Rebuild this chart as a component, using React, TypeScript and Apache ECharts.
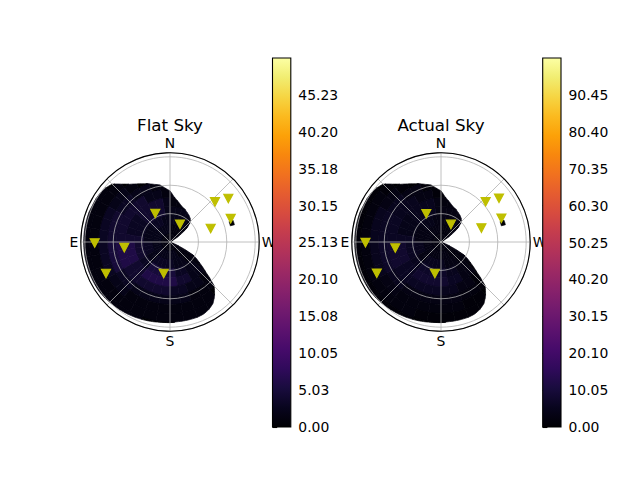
import React, { useEffect, useRef } from "react";
import * as echarts from "echarts";

const FONT = "DejaVu Sans";
const ZENITH_MAX = 1.5708;
const RING_STEP = 0.15708;
const BIN_DEG = 10;
const BOUNDARY_STEP_DEG = 5;

const compassAngles = [0, 90, 180, 270];
const compassLabels = ["N", "E", "S", "W"];

// outer edge of the sky map (zenith, rad) every 5 deg of azimuth, starting at N, going through E
const boundaryRadius = [
  0.9, 0.95, 1.02, 1.05, 1.09, 1.13, 1.18, 1.24, 1.33, 1.44,
  1.48, 1.5, 1.51, 1.51, 1.52, 1.52, 1.52, 1.52, 1.52, 1.52,
  1.52, 1.52, 1.52, 1.52, 1.52, 1.52, 1.51, 1.5, 1.49, 1.48,
  1.47, 1.46, 1.45, 1.44, 1.43, 1.42, 1.42, 1.41, 1.41, 1.41,
  1.41, 1.4, 1.37, 1.32, 1.22, 1.1, 0.82, 0.63, 0.49, 0.18,
  0, 0, 0, 0, 0, 0, 0, 0, 0, 0,
  0.05, 0.21, 0.4, 0.51, 0.55, 0.58, 0.6, 0.63, 0.65, 0.69,
  0.74, 0.8,
];

// heat values: one string per zenith ring, one digit per 10 deg azimuth bin
const flatGrid = [
  "111111111111111111111111100000111111",
  "222222222222222222222111100000111111",
  "223332222333223333322211100000112222",
  "244443334444335555533221100000112222",
  "244443334666446666644221100000111111",
  "122444444666444444332211100000000001",
  "112233444555332222221110000000000000",
  "000122333333221111111100000000000000",
  "000011111111111111111100000000000000",
  "000001111111111100000000000000000000",
];

const actualGrid = [
  "222222222222222222222222200000222222",
  "333333333333333333333222200000222222",
  "334443333555335555533322200000223333",
  "355554446666557777755332200000223333",
  "355554446888668888866331100000222222",
  "133555666888666666553311100000000001",
  "113355666777553333332210000000000000",
  "000133555555332222221100000000000000",
  "000012222222222211111100000000000000",
  "000001111111111100000000000000000000",
];

// small detached patch: [azimuth0, azimuth1, zenith0, zenith1, value]
const islands = [[285, 289, 1.1, 1.17, 0]];

// stars: [zenith (rad), azimuth (deg)]
const flatStars = [
  [1.326, 90.8],
  [0.811, 97.1],
  [1.256, 116.2],
  [0.565, 27.3],
  [0.359, 330.7],
  [0.566, 168.7],
  [1.061, 311.7],
  [1.281, 306.7],
  [1.145, 291.0],
  [0.755, 288.4],
];
const actualStars = [
  [1.33, 90.5],
  [0.812, 97.5],
  [1.258, 116.0],
  [0.56, 27.5],
  [0.355, 330.5],
  [0.565, 169.0],
  [1.058, 312.0],
  [1.279, 307.0],
  [1.143, 291.5],
  [0.752, 289.0],
];

const flatMax = 50.25;
const actualMax = 100.5;
const flatTickLabels = ["0.00", "5.03", "10.05", "15.08", "20.10", "25.13", "30.15", "35.18", "40.20", "45.23"];
const actualTickLabels = ["0.00", "10.05", "20.10", "30.15", "40.20", "50.25", "60.30", "70.35", "80.40", "90.45"];

const inferno = [
  "#000004", "#08051E", "#190C3E", "#300A5B", "#460B6A", "#5C126E", "#711A6E",
  "#87216B", "#9C2964", "#B1325A", "#C43C4E", "#D74B3F", "#E55C30", "#F1711F",
  "#F8870E", "#FCA108", "#FBBA1F", "#F6D543", "#F1ED71", "#FCFFA4",
];

function boundaryAt(t: number): number {
  const n = boundaryRadius.length;
  const idx = (((t % 360) + 360) % 360) / BOUNDARY_STEP_DEG;
  const i0 = Math.floor(idx) % n;
  const i1 = (i0 + 1) % n;
  const f = idx - Math.floor(idx);
  return boundaryRadius[i0] * (1 - f) + boundaryRadius[i1] * f;
}

function buildCells(grid: string[]) {
  const out: number[][] = [];
  grid.forEach((row, j) => {
    for (let i = 0; i < row.length; i++) {
      out.push([j * RING_STEP, Math.min((j + 1) * RING_STEP, ZENITH_MAX), i * BIN_DEG, (i + 1) * BIN_DEG, Number(row[i]), 1]);
    }
  });
  islands.forEach(([t0, t1, r0, r1, v]) => out.push([r0, r1, t0, t1, v, 0]));
  return out;
}

const SEAM_R = 0.004;
const EPS = 1e-6;

const renderHeat = (params: any, api: any) => {
  const r0 = api.value(0);
  const r1 = api.value(1);
  const t0 = api.value(2);
  const t1 = api.value(3);
  const clip = api.value(5);
  const N = 8;
  const ts: number[] = [];
  const bs: number[] = [];
  for (let k = 0; k <= N; k++) {
    const t = t0 + ((t1 - t0) * k) / N;
    ts.push(t);
    bs.push(clip ? boundaryAt(t) : 99);
  }
  // boundary outline with the points where it crosses the cell's inner and outer radius
  const pts: number[][] = [];
  for (let k = 0; k <= N; k++) {
    if (k > 0 && clip) {
      const ta = ts[k - 1], tb = ts[k], ba = bs[k - 1], bb = bs[k];
      const cross: number[][] = [];
      [r0, r1].forEach((L) => {
        if ((ba - L) * (bb - L) < 0) {
          const f = (L - ba) / (bb - ba);
          cross.push([ta + f * (tb - ta), L, f]);
        }
      });
      cross.sort((a, b) => a[2] - b[2]);
      cross.forEach((c) => pts.push([c[0], c[1]]));
    }
    pts.push([ts[k], bs[k]]);
  }
  // split into covered runs (boundary beyond the inner radius)
  const runs: number[][][] = [];
  let cur: number[][] | null = null;
  for (let i = 0; i < pts.length; i++) {
    const p = pts[i];
    if (p[1] > r0 + EPS) {
      if (!cur) {
        cur = [];
        if (i > 0) cur.push(pts[i - 1]);
      }
      cur.push(p);
    } else if (cur) {
      cur.push(p);
      runs.push(cur);
      cur = null;
    }
  }
  if (cur) runs.push(cur);
  if (!runs.length) return null;

  const color = api.visual("color");
  const children = runs.map((run) => {
    const outer = run.map(([t, b]) => api.coord([b >= r1 - 1e-9 ? r1 + SEAM_R : Math.max(r0, b), t]));
    const ta = run[0][0];
    const tb = run[run.length - 1][0];
    const inner: number[][] = [];
    if (r0 <= EPS) {
      inner.push(api.coord([0, ta]));
    } else {
      inner.push(api.coord([r0, tb]));
      for (let k = N; k >= 0; k--) {
        if (ts[k] < tb - EPS && ts[k] > ta + EPS) inner.push(api.coord([r0, ts[k]]));
      }
      inner.push(api.coord([r0, ta]));
    }
    return {
      type: "polygon",
      shape: { points: outer.concat(inner) },
      style: { fill: color, stroke: color, lineWidth: 0.7, lineJoin: "round" },
    };
  });
  return { type: "group", children };
};

const polarCenters = [[170, 242], [441, 242]];
const polarRadius = 89.2;
const barLefts = [272.5, 542.7];
const barTop = 58;
const barWidth = 18.3;
const barHeight = 369;
const starColor = "#bfbf00";

export default function App() {
  const ref = useRef<HTMLDivElement>(null);
  useEffect(() => {
    if (!ref.current) return;
    const chart = echarts.init(ref.current, undefined, { renderer: "svg" });

    const gridLine = { color: "#b0b0b0", width: 0.8 };
    const makePolar = (c: number[]) => ({ center: c, radius: [0, polarRadius] });
    const makeAngle = (pi: number) => ({
      polarIndex: pi,
      type: "value",
      min: 0,
      max: 360,
      interval: 45,
      startAngle: 90,
      clockwise: false,
      z: 2,
      axisLine: { show: true, lineStyle: { color: "#000", width: 1.1 } },
      axisTick: { show: false },
      splitLine: { show: true, lineStyle: gridLine },
      axisLabel: {
        margin: 2.5,
        color: "#000",
        fontFamily: FONT,
        fontSize: 13.9,
        formatter: (v: number) => {
          const k = compassAngles.indexOf(v);
          return k >= 0 ? compassLabels[k] : "";
        },
      },
    });
    const makeRadius = (pi: number) => ({
      polarIndex: pi,
      type: "value",
      min: 0,
      max: ZENITH_MAX,
      interval: 0.5,
      z: 1,
      axisLine: { show: false },
      axisTick: { show: false },
      axisLabel: { show: false },
      splitLine: { show: true, lineStyle: gridLine },
    });
    const makeYAxis = (gi: number, max: number, labels: string[]) => {
      const vals = labels.map(Number);
      return {
        gridIndex: gi,
        type: "value",
        min: 0,
        max,
        position: "right",
        axisLine: { show: false },
        splitLine: { show: false },
        axisTick: { show: true, length: 4.7, lineStyle: { color: "#000", width: 1.1 }, customValues: vals },
        axisLabel: {
          customValues: vals,
          margin: 7.5,
          color: "#000",
          fontFamily: FONT,
          fontSize: 13.9,
          formatter: (v: number) => v.toFixed(2),
        },
      };
    };
    const gradientFill = {
      type: "linear",
      x: 0,
      y: 1,
      x2: 0,
      y2: 0,
      colorStops: inferno.map((c, i) => ({ offset: i / (inferno.length - 1), color: c })),
    };
    const starSeries = (pi: number, data: number[][]) => ({
      type: "scatter",
      coordinateSystem: "polar",
      polarIndex: pi,
      data,
      symbol: "triangle",
      symbolRotate: 180,
      symbolSize: [9, 8.5],
      itemStyle: { color: starColor, borderColor: starColor, borderWidth: 1.2, opacity: 1 },
      z: 5,
    });

    chart.setOption({
      animation: false,
      backgroundColor: "#fff",
      textStyle: { fontFamily: FONT },
      polar: polarCenters.map(makePolar),
      angleAxis: [makeAngle(0), makeAngle(1)],
      radiusAxis: [makeRadius(0), makeRadius(1)],
      grid: barLefts.map((l) => ({ left: l, top: barTop, width: barWidth, height: barHeight, show: false })),
      xAxis: [
        { gridIndex: 0, type: "value", show: false },
        { gridIndex: 1, type: "value", show: false },
      ],
      yAxis: [makeYAxis(0, flatMax, flatTickLabels), makeYAxis(1, actualMax, actualTickLabels)],
      visualMap: [
        { type: "continuous", show: false, min: 0, max: flatMax, dimension: 4, seriesIndex: 0, inRange: { color: inferno } },
        { type: "continuous", show: false, min: 0, max: actualMax, dimension: 4, seriesIndex: 2, inRange: { color: inferno } },
      ],
      graphic: [
        ...barLefts.map((l) => ({
          type: "rect",
          shape: { x: l, y: barTop, width: barWidth, height: barHeight },
          style: { fill: gradientFill, stroke: "#000", lineWidth: 1.1 },
          z: 10,
        })),
        {
          type: "text",
          x: polarCenters[0][0],
          y: 125,
          style: { text: "Flat Sky", font: `16.7px "${FONT}"`, fill: "#000", textAlign: "center", textVerticalAlign: "middle" },
        },
        {
          type: "text",
          x: polarCenters[1][0],
          y: 125,
          style: { text: "Actual Sky", font: `16.7px "${FONT}"`, fill: "#000", textAlign: "center", textVerticalAlign: "middle" },
        },
      ],
      series: [
        {
          type: "custom",
          coordinateSystem: "polar",
          polarIndex: 0,
          renderItem: renderHeat,
          data: buildCells(flatGrid),
          z: 0,
          silent: true,
        },
        starSeries(0, flatStars),
        {
          type: "custom",
          coordinateSystem: "polar",
          polarIndex: 1,
          renderItem: renderHeat,
          data: buildCells(actualGrid),
          z: 0,
          silent: true,
        },
        starSeries(1, actualStars),
      ],
    });
    return () => chart.dispose();
  }, []);
  return <div ref={ref} style={{ position: "fixed", left: 0, top: 0, width: 640, height: 480 }} />;
}
